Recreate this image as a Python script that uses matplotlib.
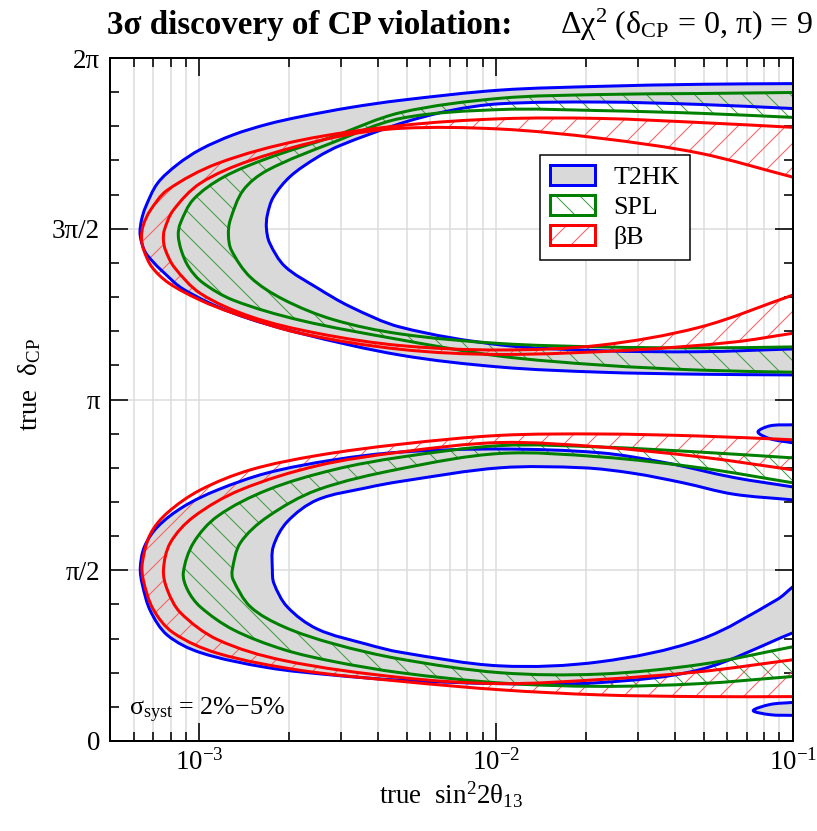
import numpy as np
import matplotlib
matplotlib.use("Agg")
import matplotlib.pyplot as plt
from matplotlib.path import Path
from matplotlib.patches import PathPatch, Patch
from matplotlib.ticker import MultipleLocator, FixedLocator, LogLocator, NullFormatter
from matplotlib.legend_handler import HandlerTuple

plt.rcParams['font.family'] = ['Liberation Serif', 'DejaVu Serif']
plt.rcParams['mathtext.fontset'] = 'custom'
plt.rcParams['mathtext.rm'] = 'Liberation Serif'
plt.rcParams['mathtext.it'] = 'Liberation Serif:italic'
plt.rcParams['mathtext.bf'] = 'Liberation Serif:bold'
plt.rcParams['mathtext.default'] = 'regular'
plt.rcParams['hatch.linewidth'] = 1.0

# ---------------------------------------------------------------------------
# 3 sigma CP-violation discovery bands (2% .. 5% systematics).
# Each contour: (log10 sin^2 2theta13, deltaCP / pi), from the upper-right
# exit, around the left tip, to the lower-right exit.
# ---------------------------------------------------------------------------

# upper lobe (deltaCP around 3pi/2)
t2hk_up_outer = [(-1.000, 1.925), (-1.313, 1.923), (-1.650, 1.917), (-1.987, 1.906),
                 (-2.323, 1.876), (-2.492, 1.855), (-2.660, 1.828), (-2.771, 1.806),
                 (-2.886, 1.775), (-2.997, 1.732), (-3.074, 1.688), (-3.141, 1.633),
                 (-3.182, 1.562), (-3.195, 1.525), (-3.200, 1.490), (-3.195, 1.461),
                 (-3.182, 1.431), (-3.158, 1.405), (-3.125, 1.376), (-3.054, 1.323),
                 (-2.886, 1.253), (-2.660, 1.194), (-2.323, 1.130), (-1.987, 1.095),
                 (-1.650, 1.080), (-1.313, 1.074), (-1.000, 1.072)]
t2hk_up_inner = [(-1.000, 1.852), (-1.313, 1.864), (-1.650, 1.871), (-1.987, 1.866),
                 (-2.155, 1.846), (-2.323, 1.808), (-2.525, 1.744), (-2.603, 1.709),
                 (-2.694, 1.653), (-2.751, 1.592), (-2.771, 1.540), (-2.774, 1.501),
                 (-2.763, 1.458), (-2.712, 1.390), (-2.603, 1.327), (-2.492, 1.272),
                 (-2.323, 1.212), (-1.987, 1.160), (-1.650, 1.143), (-1.313, 1.140),
                 (-1.000, 1.148)]
spl_up_outer = [(-1.000, 1.899), (-1.313, 1.896), (-1.650, 1.893), (-1.987, 1.882),
                (-2.323, 1.840), (-2.549, 1.770), (-2.771, 1.706), (-2.919, 1.651),
                (-3.020, 1.586), (-3.064, 1.516), (-3.071, 1.481), (-3.061, 1.437),
                (-3.036, 1.388), (-2.990, 1.343), (-2.886, 1.291), (-2.660, 1.232),
                (-2.323, 1.175), (-1.987, 1.127), (-1.650, 1.101), (-1.313, 1.086),
                (-1.000, 1.080)]
spl_up_inner = [(-1.000, 1.826), (-1.313, 1.838), (-1.650, 1.846), (-1.987, 1.849),
                (-2.323, 1.823), (-2.549, 1.753), (-2.771, 1.671), (-2.852, 1.613),
                (-2.896, 1.525), (-2.902, 1.481), (-2.892, 1.437), (-2.828, 1.358),
                (-2.717, 1.293), (-2.549, 1.234), (-2.323, 1.192), (-1.987, 1.164),
                (-1.650, 1.154), (-1.313, 1.151), (-1.000, 1.154)]
bb_up_outer = [(-1.000, 1.797), (-1.313, 1.811), (-1.650, 1.823), (-1.987, 1.822),
               (-2.323, 1.802), (-2.660, 1.759), (-2.939, 1.691), (-3.108, 1.613),
               (-3.165, 1.554), (-3.189, 1.510), (-3.195, 1.472), (-3.187, 1.437),
               (-3.160, 1.388), (-3.103, 1.341), (-2.997, 1.291), (-2.886, 1.253),
               (-2.660, 1.194), (-2.323, 1.147), (-1.987, 1.132), (-1.539, 1.145),
               (-1.202, 1.168), (-1.000, 1.194)]
bb_up_inner = [(-1.000, 1.651), (-1.313, 1.721), (-1.650, 1.765), (-1.987, 1.792),
               (-2.323, 1.794), (-2.549, 1.767), (-2.828, 1.700), (-2.997, 1.633),
               (-3.088, 1.554), (-3.118, 1.496), (-3.121, 1.466), (-3.114, 1.437),
               (-3.085, 1.388), (-2.997, 1.311), (-2.828, 1.243), (-2.603, 1.194),
               (-2.323, 1.158), (-1.987, 1.145), (-1.650, 1.159), (-1.313, 1.212),
               (-1.000, 1.306)]

# lower lobe (deltaCP around pi/2)
t2hk_lo_outer = [(-1.000, 0.744), (-1.202, 0.772), (-1.424, 0.814), (-1.650, 0.844),
                 (-1.987, 0.855), (-2.323, 0.846), (-2.549, 0.823), (-2.771, 0.785),
                 (-2.939, 0.735), (-3.054, 0.686), (-3.141, 0.627), (-3.185, 0.569),
                 (-3.199, 0.507), (-3.192, 0.458), (-3.165, 0.381), (-3.108, 0.310),
                 (-2.997, 0.259), (-2.771, 0.215), (-2.549, 0.193), (-2.323, 0.178),
                 (-1.987, 0.168), (-1.650, 0.171), (-1.313, 0.209), (-1.000, 0.317)]
t2hk_lo_inner = [(-1.000, 0.706), (-1.202, 0.723), (-1.370, 0.756), (-1.539, 0.784),
                 (-1.707, 0.800), (-1.987, 0.800), (-2.323, 0.760), (-2.434, 0.742),
                 (-2.603, 0.706), (-2.704, 0.642), (-2.751, 0.569), (-2.754, 0.501),
                 (-2.749, 0.462), (-2.704, 0.393), (-2.603, 0.328), (-2.434, 0.283),
                 (-2.323, 0.260), (-1.987, 0.220), (-1.650, 0.232), (-1.313, 0.297),
                 (-1.054, 0.414), (-1.000, 0.452)]
spl_lo_outer = [(-1.000, 0.829), (-1.313, 0.846), (-1.650, 0.861), (-1.987, 0.865),
                (-2.323, 0.831), (-2.549, 0.794), (-2.771, 0.735), (-2.939, 0.658),
                (-3.020, 0.580), (-3.054, 0.493), (-3.040, 0.443), (-2.997, 0.393),
                (-2.886, 0.326), (-2.717, 0.268), (-2.549, 0.233), (-2.323, 0.200),
                (-1.987, 0.170), (-1.650, 0.160), (-1.313, 0.168), (-1.000, 0.189)]
spl_lo_inner = [(-1.000, 0.756), (-1.313, 0.800), (-1.650, 0.832), (-1.987, 0.842),
                (-2.323, 0.797), (-2.603, 0.735), (-2.771, 0.656), (-2.862, 0.580),
                (-2.889, 0.501), (-2.886, 0.472), (-2.828, 0.393), (-2.717, 0.335),
                (-2.549, 0.285), (-2.323, 0.240), (-1.987, 0.200), (-1.650, 0.196),
                (-1.313, 0.224), (-1.000, 0.276)]
bb_lo_outer = [(-1.000, 0.882), (-1.313, 0.893), (-1.650, 0.899), (-1.987, 0.895),
               (-2.323, 0.869), (-2.603, 0.836), (-2.828, 0.794), (-2.997, 0.735),
               (-3.108, 0.668), (-3.165, 0.606), (-3.192, 0.522), (-3.189, 0.472),
               (-3.155, 0.385), (-3.088, 0.317), (-2.939, 0.257), (-2.660, 0.207),
               (-2.323, 0.175), (-1.987, 0.150), (-1.650, 0.135), (-1.313, 0.130),
               (-1.000, 0.130)]
bb_lo_inner = [(-1.000, 0.794), (-1.313, 0.832), (-1.650, 0.861), (-1.987, 0.874),
               (-2.323, 0.846), (-2.603, 0.806), (-2.862, 0.735), (-3.020, 0.656),
               (-3.098, 0.580), (-3.121, 0.501), (-3.108, 0.443), (-3.064, 0.376),
               (-2.939, 0.297), (-2.717, 0.236), (-2.323, 0.186), (-1.987, 0.168),
               (-1.650, 0.180), (-1.313, 0.203), (-1.000, 0.238)]

# small T2HK islands at the right edge
t2hk_island_hi = [(-1.000, 0.926), (-1.077, 0.923), (-1.118, 0.905), (-1.077, 0.885),
                  (-1.000, 0.873)]
t2hk_island_lo = [(-1.000, 0.113), (-1.077, 0.107), (-1.134, 0.089), (-1.077, 0.077),
                  (-1.000, 0.075)]

experiments = ['T2HK', 'SPL', 'βB']
y_tick_labels = ['0', 'π/2', 'π', '3π/2', '2π']
x_tick_labels = [r'$10^{-3}$', r'$10^{-2}$', r'$10^{-1}$']

BLUE, GREEN, RED = '#0000ff', '#008000', '#ff0000'
GRAY = '#d9d9d9'
GREEN_HATCH, RED_HATCH = '#3d9c3d', '#ff5a5a'
LW = 3.0

SX, SY = 297.0, 342.0   # weights so a decade and one pi count alike when smoothing


def bezier_vertices(pts):
    """Smooth cubic-Bezier control points through the contour nodes."""
    p = np.asarray(pts, float) * [SX, SY]
    p = np.vstack([p[0] + 0.6 * (p[0] - p[1]), p, p[-1] + 0.6 * (p[-1] - p[-2])])
    d = np.hypot(*np.diff(p, axis=0).T)
    t = np.empty_like(p)
    t[0] = (p[1] - p[0]) / d[0]
    t[-1] = (p[-1] - p[-2]) / d[-1]
    for i in range(1, len(p) - 1):
        t[i] = (p[i + 1] - p[i - 1]) / (d[i - 1] + d[i])
    verts = [p[0]]
    for i in range(len(p) - 1):
        verts += [p[i] + t[i] * d[i] / 3, p[i + 1] - t[i + 1] * d[i] / 3, p[i + 1]]
    v = np.array(verts) / [SX, SY]
    return np.column_stack([10 ** v[:, 0], v[:, 1] * np.pi])


def line_path(pts):
    v = bezier_vertices(pts)
    return Path(v, [Path.MOVETO] + [Path.CURVE4] * (len(v) - 1))


def band_path(outer, inner):
    vo = bezier_vertices(outer)
    vi = bezier_vertices(inner)[::-1]
    verts = np.vstack([vo, vi, vo[:1]])
    codes = ([Path.MOVETO] + [Path.CURVE4] * (len(vo) - 1) +
             [Path.LINETO] + [Path.CURVE4] * (len(vi) - 1) + [Path.CLOSEPOLY])
    return Path(verts, codes)


def island_path(pts):
    v = bezier_vertices(pts)
    verts = np.vstack([v, v[:1]])
    codes = [Path.MOVETO] + [Path.CURVE4] * (len(v) - 1) + [Path.CLOSEPOLY]
    return Path(verts, codes)


W, H = 817, 831
fig = plt.figure(figsize=(W / 72, H / 72), dpi=72)
ax = fig.add_axes([110 / W, 1 - 741 / H, 683 / W, 683 / H])
ax.set_xscale('log')
ax.set_xlim(5e-4, 1e-1)
ax.set_ylim(0, 2 * np.pi)

# grid
ax.xaxis.set_major_locator(FixedLocator([1e-3, 1e-2, 1e-1]))
ax.xaxis.set_minor_locator(LogLocator(base=10, subs=np.arange(2, 10)))
ax.xaxis.set_minor_formatter(NullFormatter())
ax.set_xticklabels(x_tick_labels)
ax.yaxis.set_major_locator(FixedLocator(np.arange(5) * np.pi / 2))
ax.yaxis.set_minor_locator(MultipleLocator(np.pi / 10))
ax.set_yticklabels(y_tick_labels)
ax.grid(True, which='major', axis='both', color='#dcdcdc', lw=1.5, zorder=0)
ax.grid(True, which='minor', axis='x', color='#dcdcdc', lw=1.5, zorder=0)
ax.set_axisbelow(True)

# T2HK: grey band
for outer, inner in [(t2hk_up_outer, t2hk_up_inner), (t2hk_lo_outer, t2hk_lo_inner)]:
    ax.add_patch(PathPatch(band_path(outer, inner), facecolor=GRAY, edgecolor='none', zorder=1))
for isl in [t2hk_island_hi, t2hk_island_lo]:
    ax.add_patch(PathPatch(island_path(isl), facecolor=GRAY, edgecolor='none', zorder=1))

# SPL and beta-beam: hatched bands
for outer, inner in [(spl_up_outer, spl_up_inner), (spl_lo_outer, spl_lo_inner)]:
    ax.add_patch(PathPatch(band_path(outer, inner), facecolor='none', edgecolor=GREEN_HATCH,
                           hatch='\\', lw=0, zorder=2))
for outer, inner in [(bb_up_outer, bb_up_inner), (bb_lo_outer, bb_lo_inner)]:
    ax.add_patch(PathPatch(band_path(outer, inner), facecolor='none', edgecolor=RED_HATCH,
                           hatch='/', lw=0, zorder=3))

# contour lines
groups = [
    (BLUE, [t2hk_up_outer, t2hk_up_inner, t2hk_lo_outer, t2hk_lo_inner,
            t2hk_island_hi, t2hk_island_lo], 4),
    (GREEN, [spl_up_outer, spl_up_inner, spl_lo_outer, spl_lo_inner], 5),
    (RED, [bb_up_outer, bb_up_inner, bb_lo_outer, bb_lo_inner], 6),
]
for color, curves, z in groups:
    for c in curves:
        ax.add_patch(PathPatch(line_path(c), facecolor='none', edgecolor=color, lw=LW,
                               capstyle='round', joinstyle='round', zorder=z))

# frame and ticks
for s in ax.spines.values():
    s.set_linewidth(2.0)
    s.set_zorder(10)
ax.tick_params(which='both', direction='in', top=True, right=True, width=1.6,
               labelsize=27, colors='black')
ax.tick_params(which='major', length=18)
ax.tick_params(which='minor', length=9)
ax.tick_params(axis='x', which='major', pad=8)
ax.tick_params(axis='y', which='major', pad=10)

# labels
ax.set_xlabel('true  sin$^2$2θ$_{13}$', fontsize=27, labelpad=4)
fig.text(30 / W, 1 - 385 / H, 'true  δ$_{CP}$', fontsize=27, rotation=90,
         ha='center', va='center')
fig.text(107 / W, 1 - 34 / H, '3σ discovery of CP violation:', fontsize=33,
         fontweight='bold', ha='left', va='baseline')
fig.text(560 / W, 1 - 34 / H, 'Δχ$^2$ (δ$_{CP}$ = 0, π) = 9', fontsize=32,
         ha='left', va='baseline')
fig.text(129 / W, 1 - 715 / H, 'σ$_{syst}$ = 2%−5%', fontsize=26,
         ha='left', va='baseline')

# legend
handles = [
    (Patch(facecolor=GRAY, edgecolor='none'),
     Patch(facecolor='none', edgecolor=BLUE, lw=LW)),
    (Patch(facecolor='none', edgecolor=GREEN_HATCH, hatch='\\', lw=0),
     Patch(facecolor='none', edgecolor=GREEN, lw=LW)),
    (Patch(facecolor='none', edgecolor=RED_HATCH, hatch='/', lw=0),
     Patch(facecolor='none', edgecolor=RED, lw=LW)),
]
leg = ax.legend(handles, experiments, handler_map={tuple: HandlerTuple(ndivide=1)},
                loc='upper left', bbox_to_anchor=((540 - 110) / 683, (741 - 155) / 683),
                borderaxespad=0, fontsize=26, handlelength=1.73, handleheight=0.77,
                handletextpad=0.7, labelspacing=0.24, borderpad=0.4,
                fancybox=False, framealpha=1, edgecolor='black')
leg.get_frame().set_linewidth(1.5)
leg.set_zorder(20)

fig.savefig('out.png', dpi=72)
